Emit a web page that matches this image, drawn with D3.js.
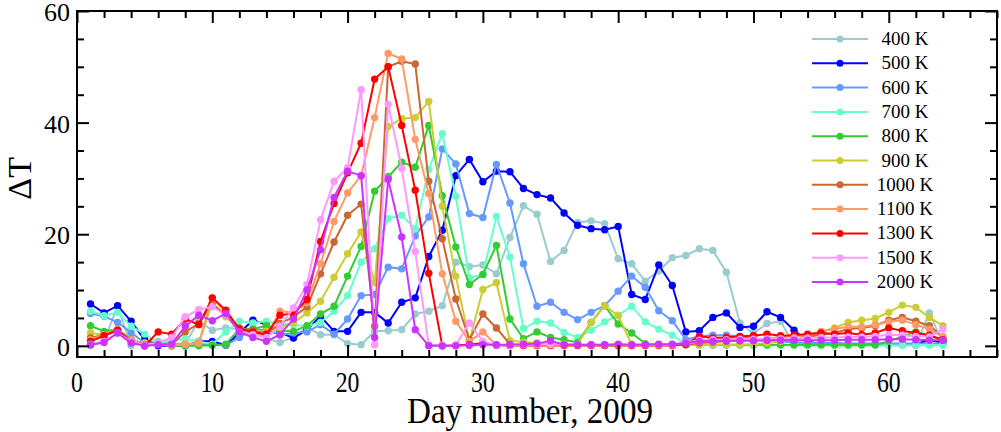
<!DOCTYPE html>
<html>
<head>
<meta charset="utf-8">
<script src="https://cdn.jsdelivr.net/npm/d3@7"></script>
<style>
  body { margin: 0; background: #fff; }
  svg text { font-family: "Liberation Serif", "DejaVu Serif", serif; fill: #000; }
</style>
</head>
<body>
<div id="chart"></div>
<script>
// day numbers 1..64
const days = d3.range(1, 65)

const labels = ['400 K', '500 K', '600 K', '700 K', '800 K', '900 K', '1000 K', '1100 K', '1300 K', '1500 K', '2000 K']
const colors = ['#99cccc', '#0000ff', '#6699ff', '#66ffcc', '#33cc33', '#cccc33', '#cc6633', '#ff9966', '#ff0000', '#ff99ff', '#cc33ff']

const t400 = [0, 0.9, 7.1, 0, 0.8, 0.8, 0.3, 0.5, 4.4, 2.8, 3.2, 3, 2.4, 1.3, 0.6, 1.5, 3.3, 2, 2, 0.4,
  0.2, 2.6, 2.7, 2.9, 5.7, 6.2, 7.2, 15, 14.2, 14.5, 12.9, 19.4, 25.1, 23.6, 15.1, 17.1, 22.1, 22.4, 21.9, 15.6,
  14.7, 11.6, 13.4, 15.8, 16.2, 17.4, 17.1, 13.2, 4.1, 2.2, 4, 4.4, 0.2, 0.1, 0.1, 0.1, 0.1, 0.1, 0.1, 0.1,
  0.1, 0.1, 5.9, 0.5]
const t500 = [7.5, 5.9, 7.2, 4.4, 1.1, 0, 0, 0, 0.8, 0.8, 0.1, 2.3, 4.6, 3.8, 2.4, 1.4, 2.9, 5.3, 2.6, 2.6,
  6, 6, 4.1, 7.8, 8.6, 16, 20.7, 30.5, 33.4, 29.4, 31.3, 31.2, 28.2, 27.1, 26.5, 23.8, 21.6, 21, 20.8, 21.4,
  9.2, 8.3, 14.5, 10.8, 2.5, 2.7, 5.1, 5.9, 3.3, 3.5, 6.1, 5.1, 2.8, 0.8, 0.3, 0.3, 0.3, 0.3, 0.3, 0.3,
  0.3, 0.3, 1.1, 0.5]
const t600 = [5.8, 5.3, 4.2, 2.4, 0.5, 0.3, 0.4, 0.2, 0.3, 0.2, 0.1, 1.5, 3, 2.8, 2, 2.3, 2.5, 3.8, 2.1, 4.8,
  9, 9.2, 14.1, 13.8, 19.7, 23.1, 35.3, 32.6, 23.7, 23, 32.5, 25.6, 14.7, 7.1, 7.8, 6, 4.7, 6, 7.2, 9.8,
  12.5, 10.5, 6.3, 4.5, 1.1, 1.7, 1.9, 1.9, 1.7, 1.2, 1, 0.8, 0.6, 0.5, 0.5, 0.5, 0.4, 0.4, 0.4, 0.4,
  0.4, 0.4, 0.4, 0.4]
const t700 = [6.2, 5.4, 6, 3.5, 2.1, 0.5, 1, 1.2, 0.8, 0.3, 2.5, 4.4, 4.1, 4.4, 4, 3.8, 3.5, 4.2, 6.2, 9,
  15, 17.4, 22.8, 23.4, 21, 31.6, 38, 26.8, 12.2, 12.8, 23.2, 15.9, 3.1, 4.4, 4.1, 2.4, 1.5, 2.8, 4.3, 5.5,
  7.1, 4.3, 3, 1.9, 0.3, 0.2, 0.1, 0.1, 0.1, 0.1, 0.1, 0.1, 0.1, 0.1, 0.1, 0.1, 0.1, 0.1, 0.1, 0.1,
  0.1, 0.1, 0.1, 0.1]
const t800 = [3.6, 2.6, 2.9, 1.2, 0, 0.5, 0, 0, 0, 0.1, 0.3, 3, 3, 3.6, 2.7, 2.6, 3.6, 5.7, 7.1, 12.5,
  17.8, 27.7, 30.3, 32.9, 32, 39.5, 26.9, 17.7, 11, 12.8, 18, 4.8, 1.3, 2.5, 1.5, 1.1, 0.6, 4.2, 7.2, 3.9,
  2.3, 0.4, 0.2, 0.2, 0.2, 0.2, 0.2, 0.2, 0.2, 0.2, 0.2, 0.2, 0.2, 0.2, 0.2, 0.2, 0.2, 0.2, 0.2, 0.8,
  1.7, 2.5, 1.8, 1]
const t900 = [2.3, 2, 2.9, 1, 0.5, 0.3, 0.2, 0.3, 0.5, 7.7, 5.2, 2.8, 2.5, 2.6, 3.3, 4.1, 5.9, 8, 12.3, 16.5,
  20.4, 11.3, 39.3, 40.7, 40.9, 43.8, 25, 12.5, 0.8, 10.1, 11.3, 0.9, 0.7, 0.5, 0.3, 0.3, 0.3, 4.2, 7.2, 5.4,
  0.3, 0.2, 0.2, 0.2, 0.2, 0.2, 0.2, 0.2, 0.2, 0.3, 0.5, 0.8, 1.4, 1.7, 2.5, 3.2, 4.2, 4.6, 4.9, 6,
  7.3, 6.9, 5.1, 3.6]
const t1000 = [1.4, 2, 2.7, 1, 0.2, 0.3, 0.2, 2.5, 4, 7.5, 5.5, 3.2, 2.7, 2.2, 4, 5.2, 7, 12.9, 18.6, 23.4,
  25.4, 3.5, 50, 51, 50.5, 29.5, 19.2, 8.4, 1.1, 5.7, 3.2, 0.3, 0.1, 0.1, 0.1, 0.1, 0.1, 0.1, 0.1, 0.1,
  0.1, 0.1, 0.1, 0.1, 0.2, 0.5, 0.7, 0.8, 1, 1, 1.1, 1.2, 1.3, 1.6, 2, 2.3, 3, 3.2, 3.6, 4.6,
  5.1, 4.4, 3.6, 1.6]
const t1100 = [1.1, 2, 2.8, 1.1, 0, 0.3, 0, 0.3, 0.5, 8.6, 5.9, 2.9, 2.5, 1.8, 6.2, 6, 7.7, 14.7, 22.3, 27.4,
  30.5, 40.9, 52.4, 51.4, 37, 27.3, 12.9, 4.4, 0.8, 2.5, 0.1, 0, 0, 0, 0, 0, 0, 0, 0, 0,
  0, 0, 0, 0, 0.3, 0.8, 1, 1.1, 1.2, 1.2, 1.3, 1.6, 1.8, 2, 2.6, 3, 3.4, 3.4, 3.8, 4.3,
  4.6, 3.8, 3, 1.6]
const t1300 = [0.8, 1.8, 2.8, 0.8, 0, 2.5, 2.1, 4.8, 3.8, 8.6, 6.4, 3, 2.5, 2, 5.5, 5.8, 8.3, 18.7, 25.5, 31,
  36.3, 47.8, 50, 39.5, 27.9, 13, 0, 0.1, 0.2, 0.5, 0.1, 0.1, 0.1, 0.1, 0.1, 0.1, 0.1, 0.1, 0.1, 0.1,
  0.1, 0.1, 0.1, 0.1, 0.3, 1.7, 1.4, 1.5, 1.7, 1.8, 2.1, 1.8, 1.9, 2.1, 2.3, 2.1, 2.3, 2, 2.3, 3.2,
  2.7, 2.3, 1.9, 1.1]
const t1500 = [0.3, 0.8, 2.3, 0.8, 0.1, 0.5, 1.5, 5.2, 6.5, 7, 5.5, 2.5, 2, 1.5, 3.5, 6.8, 11, 22.6, 29.5, 31.9,
  45.9, 0.2, 43.3, 31.8, 16.9, 0.2, 0.1, 0.1, 4.1, 0.8, 0.1, 0.1, 0.2, 0.2, 0.2, 0.2, 0.2, 0.2, 0.2, 0.2,
  0.2, 0.2, 0.2, 0.2, 0.6, 1, 1.1, 1.1, 1.2, 1.2, 1.3, 1.3, 1.4, 1.4, 1.5, 1.5, 1.6, 1.6, 1.7, 2,
  1.9, 1.7, 1.6, 3]
const t2000 = [0.2, 0.6, 2.3, 0.5, 0, 0.2, 0.3, 3.5, 5.5, 4.5, 5.8, 2.5, 1.5, 0.8, 2, 4.8, 10, 17.2, 26.6, 31.3,
  30.5, 1.5, 29.8, 19.5, 2.9, 0, 0, 0, 0.1, 0.2, 0.2, 0.2, 0.3, 0.4, 0.9, 0.2, 0.2, 0.2, 0.2, 0.3,
  0.2, 0.2, 0.3, 0.3, 0.5, 0.8, 0.8, 0.9, 0.9, 0.9, 1, 1, 1, 1, 1, 1, 1.1, 1.1, 1.1, 1.2,
  1.2, 1.1, 1, 1]

const seriesValues = [t400, t500, t600, t700, t800, t900, t1000, t1100, t1300, t1500, t2000]

const W = 1001, H = 432
const margin = { top: 11, right: 4, bottom: 75, left: 77 }
const width = W - margin.left - margin.right
const height = H - margin.top - margin.bottom

const svg = d3.select('#chart').append('svg')
  .attr('width', W)
  .attr('height', H)

const g = svg.append('g').attr('transform', `translate(${margin.left},${margin.top})`)

const x = d3.scaleLinear().domain([0, 68]).range([0, width])
const y = d3.scaleLinear().domain([-2, 60]).range([height, 0])

// clip for data
svg.append('defs').append('clipPath').attr('id', 'clip')
  .append('rect').attr('width', width).attr('height', height)

const line = d3.line().x((d, i) => x(days[i])).y(d => y(d))

const plot = g.append('g').attr('clip-path', 'url(#clip)')
seriesValues.forEach((vals, k) => {
  const s = plot.append('g')
  s.append('path')
    .datum(vals)
    .attr('d', line)
    .attr('fill', 'none')
    .attr('stroke', colors[k])
    .attr('stroke-width', 2)
  s.selectAll('circle')
    .data(vals)
    .join('circle')
    .attr('cx', (d, i) => x(days[i]))
    .attr('cy', d => y(d))
    .attr('r', 3.7)
    .attr('fill', colors[k])
})

// axes: ticks inside, on all four sides
const xMajor = d3.range(0, 70, 10)
const xMinor = d3.range(0, 69, 2).filter(v => v % 10 !== 0)
const yMajor = [0, 20, 40, 60]
const yMinor = d3.range(0, 61, 5).filter(v => v % 20 !== 0)

function tickAxis(axisFn, scale, values, size) {
  return axisFn(scale).tickValues(values).tickSize(size).tickFormat('')
}

const axes = g.append('g').attr('class', 'axes')
// bottom
axes.append('g').attr('transform', `translate(0,${height})`)
  .call(tickAxis(d3.axisTop, x, xMajor, 12))
axes.append('g').attr('transform', `translate(0,${height})`)
  .call(tickAxis(d3.axisTop, x, xMinor, 7))
// top
axes.append('g').call(tickAxis(d3.axisBottom, x, xMajor, 12))
axes.append('g').call(tickAxis(d3.axisBottom, x, xMinor, 7))
// left
axes.append('g').call(tickAxis(d3.axisRight, y, yMajor, 12))
axes.append('g').call(tickAxis(d3.axisRight, y, yMinor, 7))
// right
axes.append('g').attr('transform', `translate(${width},0)`)
  .call(tickAxis(d3.axisLeft, y, yMajor, 12))
axes.append('g').attr('transform', `translate(${width},0)`)
  .call(tickAxis(d3.axisLeft, y, yMinor, 7))

axes.selectAll('.domain').remove()
axes.selectAll('line').attr('stroke', '#000').attr('stroke-width', 2)

g.append('rect')
  .attr('width', width).attr('height', height)
  .attr('fill', 'none').attr('stroke', '#000').attr('stroke-width', 2)

// tick labels
g.selectAll('.xlab').data(xMajor).join('text')
  .attr('class', 'xlab')
  .attr('transform', d => `translate(${x(d)},${height + 35}) scale(0.82,1)`)
  .attr('text-anchor', 'middle')
  .style('font-size', '29px')
  .text(d => d)

g.selectAll('.ylab').data(yMajor).join('text')
  .attr('class', 'ylab')
  .attr('x', -7)
  .attr('y', d => y(d) + 10)
  .attr('text-anchor', 'end')
  .style('font-size', '26px')
  .text(d => d)

// axis titles
svg.append('text')
  .attr('transform', `translate(${margin.left + x(34) - 7},${H - 9}) scale(0.92,1)`)
  .attr('text-anchor', 'middle')
  .style('font-size', '36px')
  .text('Day number, 2009')

svg.append('text')
  .attr('transform', `translate(31,${margin.top + y(30)}) rotate(-90)`)
  .attr('text-anchor', 'middle')
  .style('font-size', '34px')
  .text('ΔT')

// legend
const legend = svg.append('g').attr('transform', 'translate(812,39)')
labels.forEach((lab, k) => {
  const row = legend.append('g').attr('transform', `translate(0,${k * 24.3})`)
  row.append('line').attr('x1', 0).attr('x2', 56).attr('y1', 0).attr('y2', 0)
    .attr('stroke', colors[k]).attr('stroke-width', 2)
  row.append('circle').attr('cx', 28).attr('cy', 0).attr('r', 3.5).attr('fill', colors[k])
  row.append('text').attr('x', 93).attr('y', 6).attr('text-anchor', 'middle')
    .style('font-size', '19px').text(lab)
})
</script>
</body>
</html>
